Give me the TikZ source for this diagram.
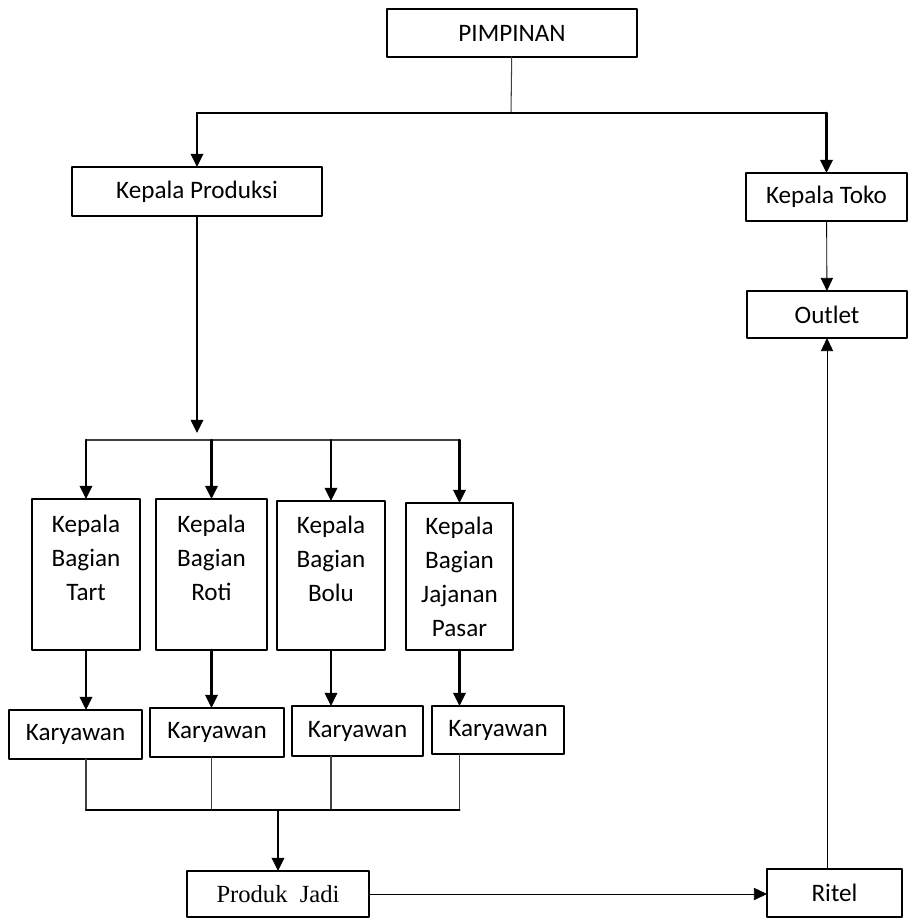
\documentclass[tikz,border=0pt]{standalone}
\usepackage{fontspec}
\setmainfont{Carlito}
\newfontfamily\serifjadi{Liberation Serif}
\usetikzlibrary{arrows.meta}

\begin{document}
\begin{tikzpicture}[
    x=0.02cm,
    y=-0.02cm,
    line cap=round,
    line join=round,
    kotak/.style={draw, line width=0.8pt, inner sep=0pt, outer sep=0pt,
        align=center, font=\fontsize{14.3}{19.3}\selectfont},
    panah/.style={-{Triangle[length=7.5pt,width=7pt]}, line width=1.4pt},
    panahtipis/.style={-{Triangle[length=7.5pt,width=7pt]}, line width=0.5pt},
    tipis/.style={line width=0.6pt, black!75}
]

\useasboundingbox (0,0) rectangle (909,918);

%------------------------------------------------
% Top level
%------------------------------------------------
\node[kotak, minimum width=5cm, minimum height=0.96cm] (pim) at (512,33) {PIMPINAN};

\node[kotak, minimum width=5cm, minimum height=0.98cm] (kprod) at (197,191.5) {Kepala Produksi};

\node[kotak, minimum width=3.22cm, minimum height=0.96cm] (ktoko) at (826.5,197) {Kepala Toko};

\node[kotak, minimum width=3.2cm, minimum height=0.94cm] (outlet) at (827,314.5) {Outlet};

%------------------------------------------------
% Kepala bagian
%------------------------------------------------
\node[kotak, minimum width=2.16cm, minimum height=3.02cm] (tart) at (86,574.5)
    {Kepala\\Bagian\\Tart\\\mbox{}};

\node[kotak, minimum width=2.22cm, minimum height=3.02cm] (roti) at (211.5,574.5)
    {Kepala\\Bagian\\Roti\\\mbox{}};

\node[kotak, minimum width=2.16cm, minimum height=2.98cm] (bolu) at (331,575.5)
    {Kepala\\Bagian\\Bolu\\\mbox{}};

\node[kotak, minimum width=2.14cm, minimum height=2.94cm] (pasar) at (459.5,576.5)
    {Kepala\\Bagian\\Jajanan\\Pasar};

%------------------------------------------------
% Karyawan
%------------------------------------------------
\node[kotak, minimum width=2.66cm, minimum height=0.98cm] (kar1) at (75.5,734.5) {Karyawan};
\node[kotak, minimum width=2.68cm, minimum height=0.98cm] (kar2) at (217,732.5) {Karyawan};
\node[kotak, minimum width=2.62cm, minimum height=1.0cm] (kar3) at (357.5,731) {Karyawan};
\node[kotak, minimum width=2.64cm, minimum height=0.96cm] (kar4) at (498,730) {Karyawan};

%------------------------------------------------
% Bottom
%------------------------------------------------
\node[kotak, minimum width=3.64cm, minimum height=0.92cm,
    font=\serifjadi\fontsize{14}{17}\selectfont] (produk) at (278,894) {Produk\ \ Jadi};

\node[kotak, minimum width=2.7cm, minimum height=0.96cm] (ritel) at (834.5,893) {Ritel};

%------------------------------------------------
% Branch points
%------------------------------------------------
\coordinate (atas) at (511,113);
\coordinate (bagi) at (193,440);
\coordinate (gabung) at (278,810);

%------------------------------------------------
% Connectors
%------------------------------------------------
\draw[tipis] (pim) -- (atas);
\draw[line width=1.4pt] (kprod |- atas) -- (ktoko |- atas);
\draw[panah] (kprod |- atas) -- (kprod);
\draw[panah] (ktoko |- atas) -- (ktoko);

\draw[panahtipis] (ktoko) -- (outlet);

\draw[panah, shorten >=4pt] (kprod) -- (kprod |- bagi);
\draw[tipis] (tart |- bagi) -- (pasar |- bagi);
\foreach \b in {tart, roti, bolu, pasar}
    \draw[panah] (\b |- bagi) -- (\b);

\draw[panah] (tart) -- (tart |- kar1.north);
\draw[panah] (roti) -- (roti |- kar2.north);
\draw[panah] (bolu) -- (bolu |- kar3.north);
\draw[panah] (pasar) -- (pasar |- kar4.north);

\draw[tipis] (tart |- kar1.south) -- (tart |- gabung);
\draw[tipis] (roti |- kar2.south) -- (roti |- gabung);
\draw[tipis] (bolu |- kar3.south) -- (bolu |- gabung);
\draw[tipis] (pasar |- kar4.south) -- (pasar |- gabung);
\draw[line width=1.3pt] (tart |- gabung) -- (pasar |- gabung);
\draw[panah] (gabung) -- (produk);

\draw[panahtipis] (produk.east) -- (produk.east -| ritel.west);
\draw[panahtipis] (outlet |- ritel.north) -- (outlet);

\end{tikzpicture}
\end{document}
